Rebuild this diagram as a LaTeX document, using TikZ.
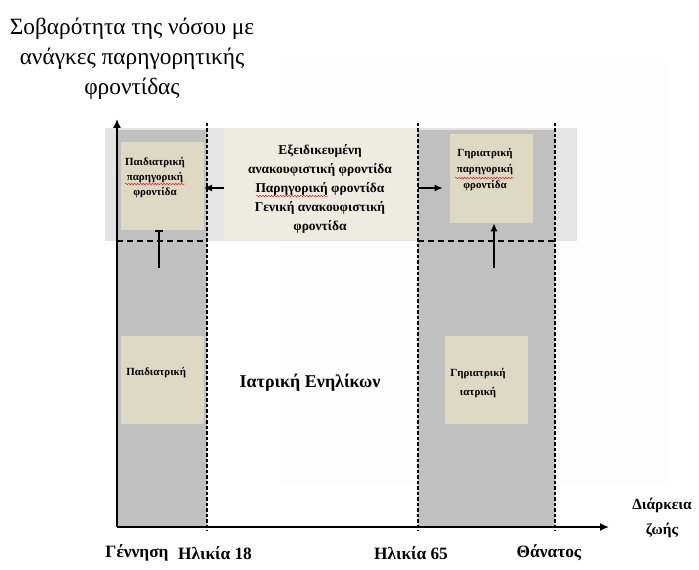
\documentclass[tikz,border=0pt]{standalone}
\usepackage{fontspec}
\setmainfont{Liberation Serif}
\usetikzlibrary{arrows.meta,decorations.pathmorphing}
\definecolor{colgray}{HTML}{C0C0C0}
\definecolor{beige}{HTML}{DDD9C3}
\definecolor{lightbeige}{HTML}{EEECE1}
\definecolor{bandgray}{HTML}{E4E4E4}
\definecolor{faint}{HTML}{FDFDFD}
\def\px{0.75pt}
\begin{document}
\begin{tikzpicture}[x=0.75pt,y=-0.75pt,
  column/.style={fill=colgray,draw=none},
  boxb/.style={fill=beige,draw=none,inner sep=0pt,minimum width=83*\px,minimum height=88*\px},
  axisline/.style={line width=1.5*\px,-{Latex[length=9*\px,width=8*\px]}},
  vdash/.style={line width=1.1*\px,dash pattern=on 3.5*\px off 2*\px},
  hdash/.style={line width=1.4*\px,dash pattern=on 6*\px off 4*\px},
  arr/.style={line width=1.3*\px,-{Latex[length=8*\px,width=7*\px]}},
  smalltxt/.style={font=\bfseries\fontsize{8.2pt}{11.2pt}\selectfont,align=center,inner sep=0pt},
  midtxt/.style={font=\bfseries\fontsize{10.1pt}{14.3pt}\selectfont,align=center,inner sep=0pt},
  labeltxt/.style={font=\bfseries\fontsize{13pt}{15pt}\selectfont,inner sep=0pt},
  squig/.style={red,line width=0.35pt,decorate,decoration={snake,amplitude=0.5pt,segment length=2.2pt}}
]
\useasboundingbox (0,0) rectangle (699,570);
% faint background sheet
\fill[faint] (280,63) rectangle (667,483);
% light band
\fill[bandgray] (105,128) rectangle (577,241);
% gray columns
\fill[column] (117,130) rectangle (207,527);
\fill[column] (418,130) rectangle (555,527);
% boxes
\node[boxb] (tlbox) at (162.5,186) {};
\node[boxb,fill=lightbeige,minimum width=193*\px,minimum height=112*\px] (midbox) at (320.5,184) {};
\node[boxb,minimum height=89*\px] (trbox) at (491.5,178.5) {};
\node[boxb] (blbox) at (162.5,380) {};
\node[boxb] (brbox) at (486.5,380) {};
% box texts
\node[smalltxt] (tltext) at (155,178) {Παιδιατρική\\παρηγορική\\φροντίδα};
\node[midtxt] (midtext) at (320,189) {Εξειδικευμένη\\ανακουφιστική φροντίδα\\Παρηγορική φροντίδα\\Γενική ανακουφιστική\\φροντίδα};
\node[smalltxt,font=\bfseries\fontsize{8.2pt}{12pt}\selectfont] (trtext) at (485,170) {Γηριατρική\\παρηγορική\\φροντίδα};
\node[smalltxt,anchor=west] (bltext) at (126,373) {Παιδιατρική};
\node[smalltxt,font=\bfseries\fontsize{8.2pt}{14.5pt}\selectfont] (brtext) at (478,383) {Γηριατρική\\ιατρική};
\node[font=\bfseries\fontsize{13.5pt}{15pt}\selectfont,inner sep=0pt] (adult) at (310,383) {Ιατρική Ενηλίκων};
% spell-check squiggles
\draw[squig] (125,184) -- (185,184);
\draw[squig] (256,196) -- (328,196);
\draw[squig] (455,178) -- (514,178);
% axes
\coordinate (O) at (117,527);
\coordinate (ytip) at (117,119);
\coordinate (xtip) at (609,527);
\draw[axisline] (O) -- (ytip);
\draw[axisline] (O) -- (xtip);
% dashed verticals
\coordinate (d1t) at (207,123); \coordinate (d1b) at (207,531);
\coordinate (d2t) at (418,123); \coordinate (d2b) at (418,531);
\coordinate (d3t) at (555,123); \coordinate (d3b) at (555,531);
\draw[vdash] (d1t) -- (d1b);
\draw[vdash] (d2t) -- (d2b);
\draw[vdash] (d3t) -- (d3b);
% dashed horizontals
\draw[hdash] (117,241) -- (207,241);
\draw[hdash] (418,241) -- (555,241);
% arrows
\draw[arr] (midbox.west |- 0,188) -- (204,188);
\draw[arr] (418,188) -- ([xshift=-7*\px]trbox.west |- 0,188);
\coordinate (ua1) at (159,268);
\draw[line width=1.3*\px,-{Bar[width=8*\px,line width=1.6*\px]}] (ua1) -- (tlbox.south -| ua1);
\coordinate (ua2) at (494,268);
\draw[arr] (ua2) -- (trbox.south -| ua2);
% axis labels
\node[labeltxt] (birth) at (137,553) {Γέννηση};
\node[labeltxt] (age18) at (215,553) {Ηλικία 18};
\node[labeltxt] (age65) at (411,553) {Ηλικία 65};
\node[labeltxt] (death) at (549,553) {Θάνατος};
\node[font=\bfseries\fontsize{11.5pt}{18.5pt}\selectfont,align=center,inner sep=0pt] (life) at (662,518) {Διάρκεια\\ζωής};
% title
\node[font=\fontsize{17.5pt}{22.5pt}\selectfont,align=center,inner sep=0pt] (title) at (132,59) {Σοβαρότητα της νόσου με\\ανάγκες παρηγορητικής\\φροντίδας};
\end{tikzpicture}
\end{document}
